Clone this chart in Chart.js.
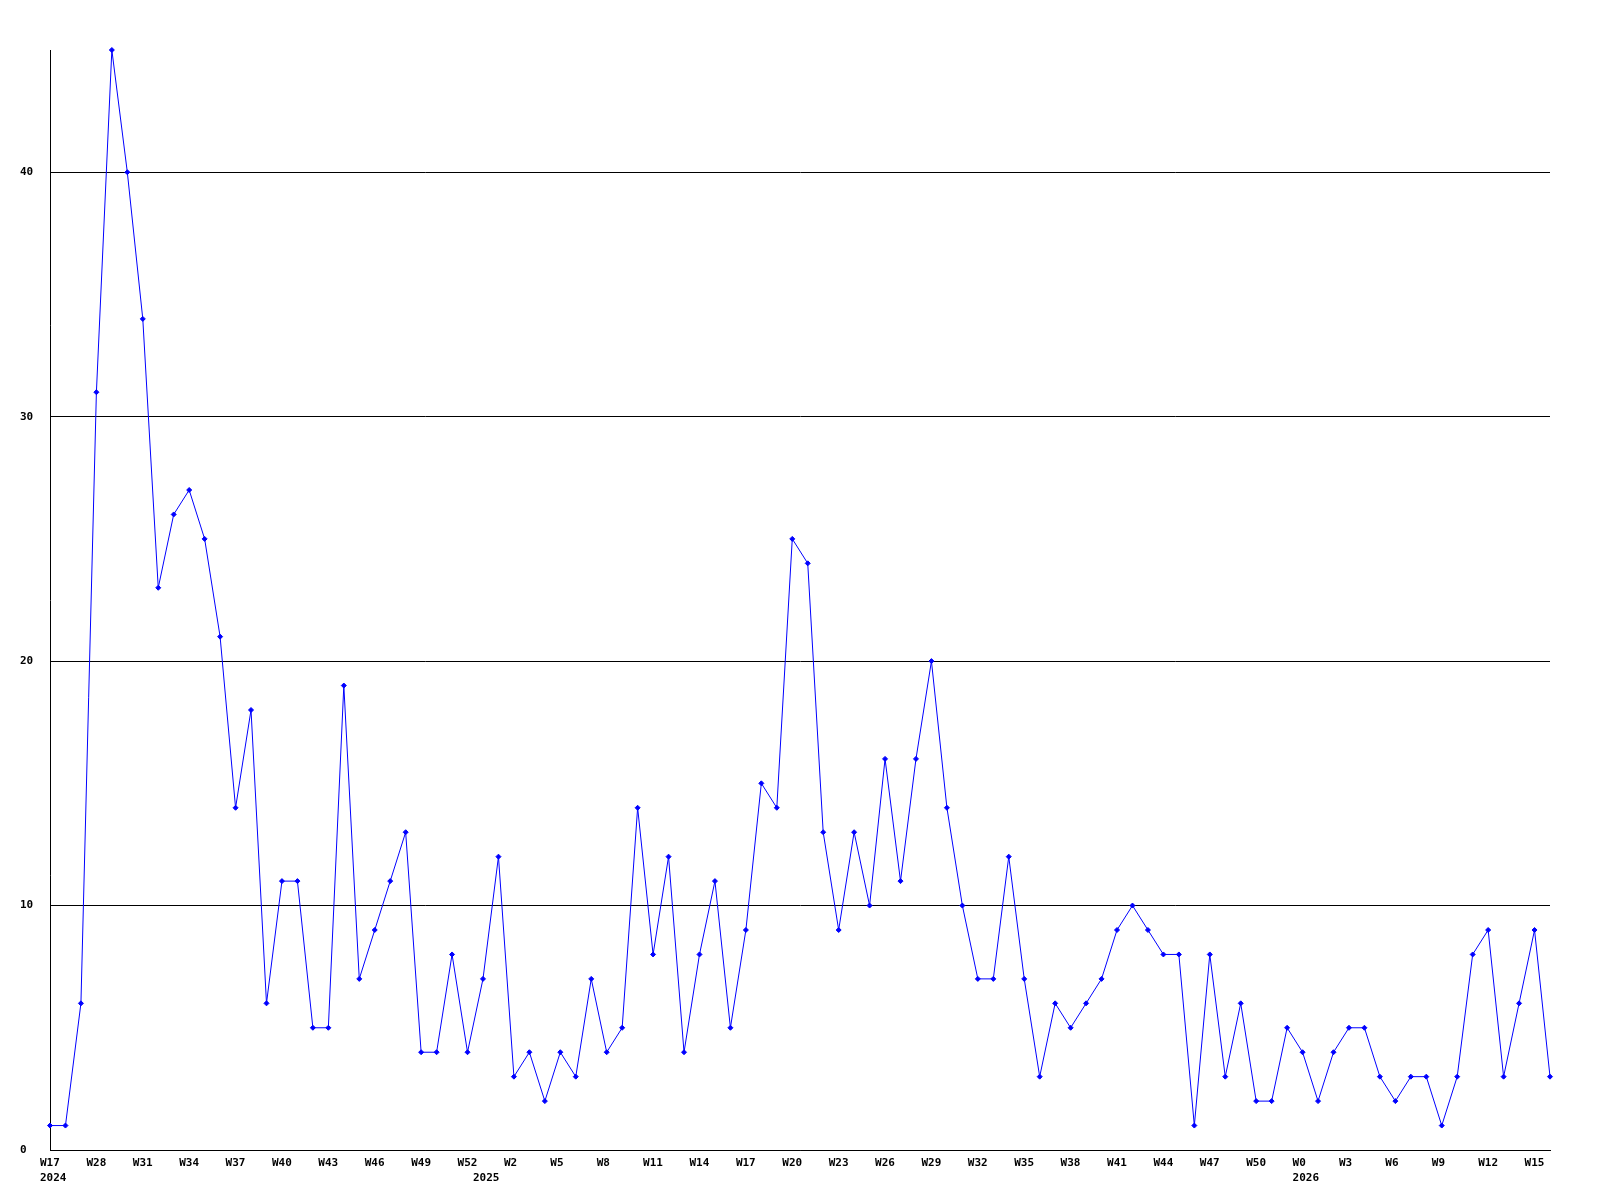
<!DOCTYPE html>
<html lang="en">
<head>
    <meta charset="UTF-8">
    <title>Weekly counts</title>
    <script src="https://cdn.jsdelivr.net/npm/chart.js@4.4.0/dist/chart.umd.min.js"></script>
    <style>
        body { margin: 0; background: #fff; }
        #chart { display: block; }
    </style>
</head>
<body>
    <canvas id="chart" width="1600" height="1200"></canvas>
    <script>
        // week labels: 2024 (W17, W26-W52), 2025 (W0-W52), 2026 (W0-W16)
        const weekLabels = [
            'W17', 'W26', 'W27', 'W28', 'W29', 'W30', 'W31', 'W32', 'W33', 'W34',
            'W35', 'W36', 'W37', 'W38', 'W39', 'W40', 'W41', 'W42', 'W43', 'W44',
            'W45', 'W46', 'W47', 'W48', 'W49', 'W50', 'W51', 'W52',
            'W0', 'W1', 'W2', 'W3', 'W4', 'W5', 'W6', 'W7', 'W8', 'W9',
            'W10', 'W11', 'W12', 'W13', 'W14', 'W15', 'W16', 'W17', 'W18', 'W19',
            'W20', 'W21', 'W22', 'W23', 'W24', 'W25', 'W26', 'W27', 'W28', 'W29',
            'W30', 'W31', 'W32', 'W33', 'W34', 'W35', 'W36', 'W37', 'W38', 'W39',
            'W40', 'W41', 'W42', 'W43', 'W44', 'W45', 'W46', 'W47', 'W48', 'W49',
            'W50', 'W51', 'W52',
            'W0', 'W1', 'W2', 'W3', 'W4', 'W5', 'W6', 'W7', 'W8', 'W9',
            'W10', 'W11', 'W12', 'W13', 'W14', 'W15', 'W16'
        ];

        // year shown under the first week of each year
        const yearIndex = [0, 28, 81];
        const yearNames = ['2024', '2025', '2026'];

        const counts = [
            1, 1, 6, 31, 45, 40, 34, 23, 26, 27,
            25, 21, 14, 18, 6, 11, 11, 5, 5, 19,
            7, 9, 11, 13, 4, 4, 8, 4, 7, 12,
            3, 4, 2, 4, 3, 7, 4, 5, 14, 8,
            12, 4, 8, 11, 5, 9, 15, 14, 25, 24,
            13, 9, 13, 10, 16, 11, 16, 20, 14, 10,
            7, 7, 12, 7, 3, 6, 5, 6, 7, 9,
            10, 9, 8, 8, 1, 8, 3, 6, 2, 2,
            5, 4, 2, 4, 5, 5, 3, 2, 3, 3,
            1, 3, 8, 9, 3, 6, 9, 3
        ];

        const yTicks = [0, 10, 20, 30, 40];
        const yMax = 45;

        const tickFont = { family: 'DejaVu Sans Mono', size: 11, weight: 'bold', lineHeight: 1.35 };

        new Chart(document.getElementById('chart'), {
            type: 'line',
            data: {
                labels: weekLabels,
                datasets: [{
                    data: counts,
                    borderColor: '#0000ff',
                    backgroundColor: '#0000ff',
                    borderWidth: 1,
                    tension: 0,
                    pointStyle: 'rectRot',
                    pointRadius: 2.5,
                    pointBorderWidth: 1,
                    pointBackgroundColor: '#0000ff',
                    pointBorderColor: '#0000ff',
                    clip: false
                }]
            },
            options: {
                responsive: false,
                animation: false,
                layout: { padding: { top: 50, right: 50, left: 20, bottom: 0 } },
                plugins: {
                    legend: { display: false },
                    tooltip: { enabled: false }
                },
                scales: {
                    x: {
                        offset: false,
                        grid: { display: false, drawTicks: false },
                        border: { display: true, color: '#000', width: 1 },
                        afterFit: (scale) => { scale.height = 50; },
                        ticks: {
                            autoSkip: false,
                            maxRotation: 0,
                            minRotation: 0,
                            align: 'start',
                            labelOffset: -10,
                            padding: 6,
                            color: '#000',
                            font: tickFont,
                            callback: (value, index) => {
                                const wk = index % 3 === 0 ? weekLabels[index] : '';
                                const y = yearIndex.indexOf(index);
                                return y >= 0 ? [wk, yearNames[y]] : wk;
                            }
                        }
                    },
                    y: {
                        min: 0,
                        max: yMax,
                        grid: { color: '#000', lineWidth: 1, drawTicks: false },
                        border: { display: true, color: '#000', width: 1 },
                        afterFit: (scale) => { scale.width = 30; },
                        afterBuildTicks: (scale) => {
                            scale.ticks = yTicks.map(v => ({ value: v }));
                        },
                        ticks: {
                            crossAlign: 'far',
                            padding: 0,
                            color: '#000',
                            font: tickFont
                        }
                    }
                }
            }
        });
    </script>
</body>
</html>
